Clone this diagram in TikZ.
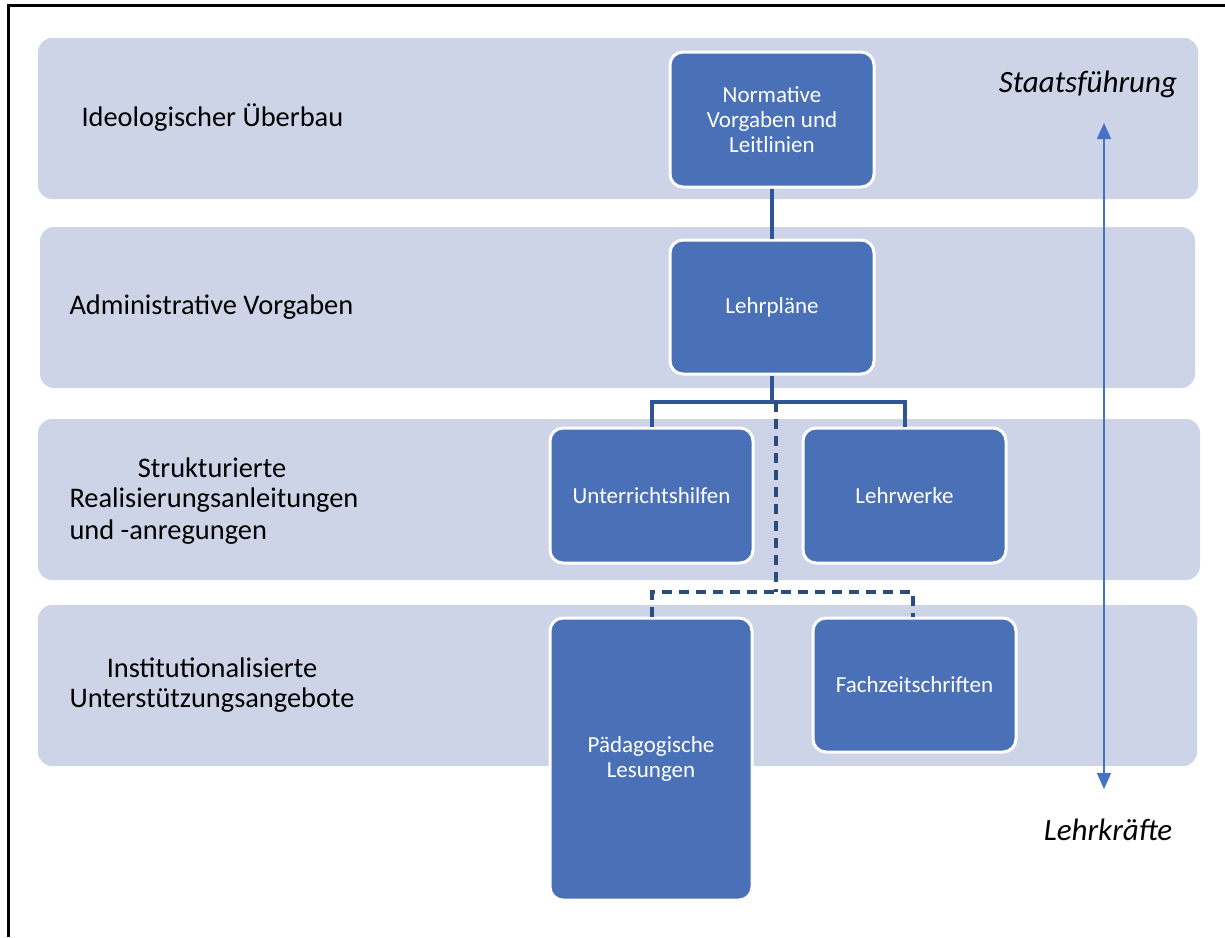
\documentclass[tikz,border=0pt]{standalone}
\usepackage{fontspec}
\setmainfont{Carlito}
\usetikzlibrary{arrows.meta}
\definecolor{bandc}{HTML}{CED4E7}
\definecolor{boxc}{HTML}{4A71B7}
\definecolor{linec}{HTML}{2F5597}
\definecolor{dashc}{HTML}{2D4C7E}
\definecolor{arrc}{HTML}{4472C4}
\tikzset{
  band/.style={fill=bandc, draw=none, rounded corners=14pt},
  bluebox/.style={fill=boxc, draw=white, line width=3pt, rounded corners=13pt},
  boxtext/.style={text=white, align=center, font=\fontsize{23}{25}\selectfont},
  lbl/.style={text=black, font=\fontsize{28.4}{32}\selectfont},
  side/.style={text=black, font=\fontsize{31}{36}\selectfont\itshape},
  conn/.style={draw=linec, line width=3.2pt},
  dconn/.style={draw=dashc, line width=3.2pt, dash pattern=on 10pt off 7pt},
}
\begin{document}
\begin{tikzpicture}[x=1pt,y=-1pt]
\useasboundingbox (0,0) rectangle (1225,937);
% frame
\draw[line width=3pt] (8,937) -- (8,5) -- (1225,5);
% bands
\fill[band] (38,38) rectangle (1198,199);
\fill[band] (40,227) rectangle (1195,388);
\fill[band] (38,419) rectangle (1200,580);
\fill[band] (38,605) rectangle (1197,766);
% left labels
\node[lbl, anchor=west] (l1) at (78,118) {Ideologischer Überbau};
\node[lbl, anchor=west] (l2) at (66,307) {Administrative Vorgaben};
\node[lbl] (l3a) at (212,468) {Strukturierte};
\node[lbl, anchor=west] (l3b) at (66,500) {Realisierungsanleitungen};
\node[lbl, anchor=west] (l3c) at (66,532) {und -anregungen};
\node[lbl] (l4a) at (212,668) {Institutionalisierte};
\node[lbl] (l4b) at (212,700) {Unterstützungsangebote};
% boxes
\draw[bluebox] (670,52) rectangle (874,187);
\node[boxtext] (nv) at (772,119.5) {Normative\\Vorgaben und\\Leitlinien};
\draw[bluebox] (670,240) rectangle (874,374);
\node[boxtext] (lp) at (772,307) {Lehrpläne};
\draw[bluebox] (550,428) rectangle (753,563);
\node[boxtext] (uh) at (651.5,495.5) {Unterrichtshilfen};
\draw[bluebox] (803,428) rectangle (1006,563);
\node[boxtext] (lw) at (904.5,495.5) {Lehrwerke};
\draw[bluebox] (550,618) rectangle (752,900);
\node[boxtext] (pl) at (651,759) {Pädagogische\\Lesungen};
\draw[bluebox] (813,618) rectangle (1016,752);
\node[boxtext] (fz) at (914.5,685) {Fachzeitschriften};
% coordinates
\coordinate (nvb) at (772,188.5);
\coordinate (lpt) at (772,238.5);
\coordinate (lpb) at (772,375.5);
\coordinate (uht) at (652,426.5);
\coordinate (lwt) at (905,426.5);
\coordinate (dstart) at (776,402);
\coordinate (plt) at (652,616.5);
\coordinate (fzt) at (913,616.5);
% connectors
\draw[conn] (nvb) -- (lpt);
\draw[conn] (lpb) -- (772,402);
\draw[conn] (uht) -- (652,402) -- (905,402) -- (lwt);
\draw[dconn] (dstart) -- (776,592);
\draw[dconn] (plt) -- (652,592) -- (913,592) -- (fzt);
% side
\node[side] (st) at (1088,84) {Staatsführung};
\node[side] (lk) at (1108,830) {Lehrkräfte};
\coordinate (atop) at (1104,123);
\coordinate (abot) at (1104,789);
\draw[arrc, line width=1.6pt, {Triangle[length=16pt,width=14pt]}-{Triangle[length=16pt,width=14pt]}] (atop) -- (abot);
\end{tikzpicture}
\end{document}
